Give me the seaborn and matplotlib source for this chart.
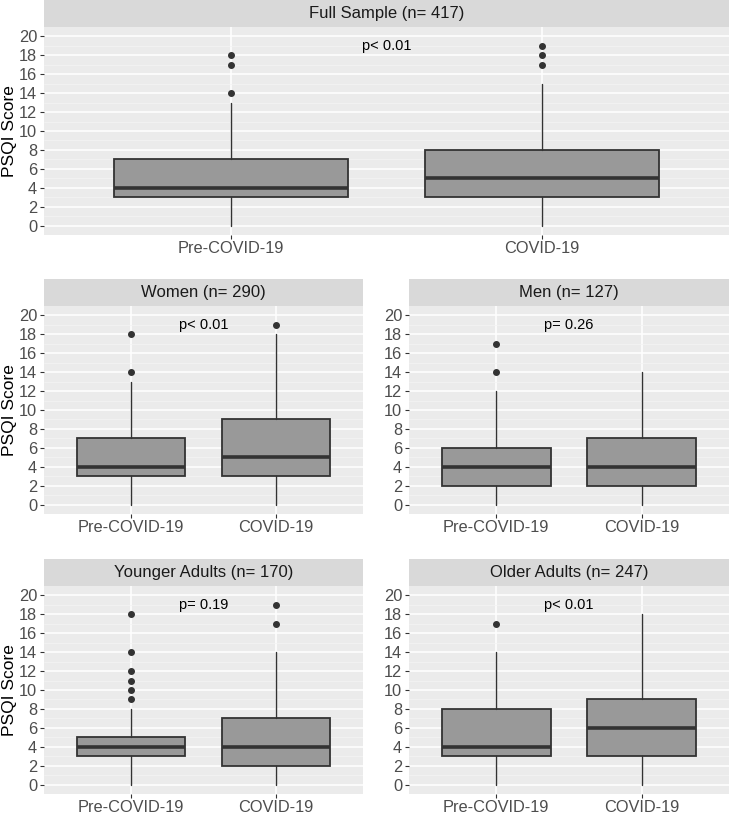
import matplotlib
matplotlib.use("Agg")
import matplotlib.pyplot as plt
from matplotlib.patches import Rectangle
import seaborn as sns

# box statistics (PSQI score)
groups = ["Pre-COVID-19", "COVID-19"]
panel_titles = ["Full Sample (n= 417)", "Women (n= 290)", "Men (n= 127)",
                "Younger Adults (n= 170)", "Older Adults (n= 247)"]
p_labels = ["p< 0.01", "p< 0.01", "p= 0.26", "p= 0.19", "p< 0.01"]

# each entry: [pre, covid] -> (whisker low, q1, median, q3, whisker high)
full_box = [(0, 3, 4, 7, 13), (0, 3, 5, 8, 15)]
women_box = [(0, 3, 4, 7, 13), (0, 3, 5, 9, 18)]
men_box = [(0, 2, 4, 6, 12), (0, 2, 4, 7, 14)]
young_box = [(0, 3, 4, 5, 8), (0, 2, 4, 7, 14)]
old_box = [(0, 3, 4, 8, 14), (0, 3, 6, 9, 18)]

full_out = [[14, 17, 18], [17, 18, 19]]
women_out = [[14, 18], [19]]
men_out = [[14, 17], []]
young_out = [[9, 10, 11, 12, 14, 18], [17, 19]]
old_out = [[17], []]

boxes = [full_box, women_box, men_box, young_box, old_box]
outliers = [full_out, women_out, men_out, young_out, old_out]

sns.set_theme(style="darkgrid", rc={"axes.facecolor": "#EBEBEB",
                                    "grid.color": "white"})
plt.rcParams['font.family'] = ['Liberation Sans', 'DejaVu Sans']

fig = plt.figure(figsize=(7.29, 8.14), dpi=100)
W, H = 729.0, 814.0
# panel rectangles in pixels: left, top, right, bottom
rects = [(44, 27, 729, 235),
         (44, 306, 363, 514), (409, 306, 729, 514),
         (44, 586, 363, 794), (409, 586, 729, 794)]
strip_h = 27

for i, (l, t, r, b) in enumerate(rects):
    ax = fig.add_axes([l / W, (H - b) / H, (r - l) / W, (b - t) / H])
    stats = []
    for j, g in enumerate(groups):
        lo, q1, med, q3, hi = boxes[i][j]
        stats.append(dict(label=g, whislo=lo, q1=q1, med=med, q3=q3,
                          whishi=hi, fliers=outliers[i][j]))
    ax.bxp(stats, positions=[0, 1], widths=0.75, patch_artist=True,
           showcaps=False,
           boxprops=dict(facecolor="#999999", edgecolor="#333333", linewidth=1.3),
           medianprops=dict(color="#333333", linewidth=2.6),
           whiskerprops=dict(color="#333333", linewidth=1.0),
           flierprops=dict(marker="o", markerfacecolor="#333333",
                           markeredgecolor="#333333", markersize=4))
    ax.set_xlim(-0.6, 1.6)
    ax.set_ylim(-1, 21)
    ax.set_yticks(range(0, 21, 2))
    ax.set_yticks(range(1, 21, 2), minor=True)
    ax.set_xticks([0, 1], labels=groups)
    ax.grid(True, which="major", color="white", linewidth=1.1)
    ax.grid(True, which="minor", axis="y", color="#F4F4F4", linewidth=0.5)
    ax.set_axisbelow(True)
    for s in ax.spines.values():
        s.set_visible(False)
    ax.tick_params(which="major", length=3, color="#333333", width=0.8,
                   labelcolor="#4D4D4D", labelsize=11.8, pad=2, left=True, bottom=True)
    ax.tick_params(axis="x", pad=1.5)
    ax.tick_params(which="minor", length=0)
    if l == 44:
        ax.set_ylabel("PSQI Score", fontsize=12.5, color="black", va="center")
        ax.yaxis.set_label_coords((10 - l) / (r - l), 0.5)
    else:
        ax.set_ylabel("")
    ax.text(0.5, 19, p_labels[i], ha="center", va="center", fontsize=10.5,
            color="black")
    # facet strip
    sh = strip_h / (b - t)
    ax.add_patch(Rectangle((0, 1), 1, sh, transform=ax.transAxes,
                           clip_on=False, facecolor="#D9D9D9", edgecolor="none"))
    ax.text(0.5, 1 + sh / 2, panel_titles[i], transform=ax.transAxes,
            ha="center", va="center", fontsize=12, color="#1A1A1A")

fig.savefig("out.png", dpi=100)
